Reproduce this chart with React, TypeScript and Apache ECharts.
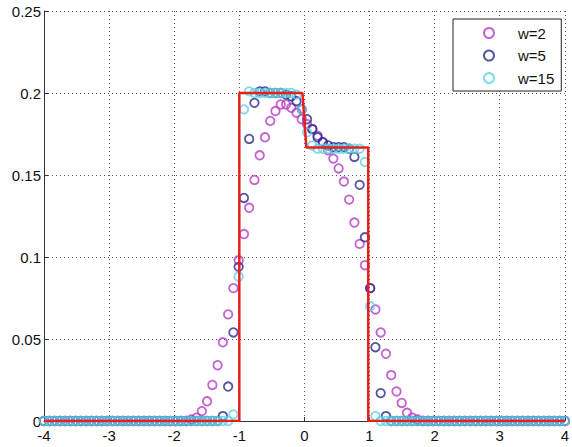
import React, { useEffect, useRef } from "react";
import * as echarts from "echarts";

// Sample grid shared by the three smoothed estimates (100 points on [-4, 4])
const X_GRID = [
  -4.0, -3.9192, -3.8384, -3.7576, -3.6768, -3.596, -3.5152, -3.4343, -3.3535, -3.2727,
  -3.1919, -3.1111, -3.0303, -2.9495, -2.8687, -2.7879, -2.7071, -2.6263, -2.5455, -2.4646,
  -2.3838, -2.303, -2.2222, -2.1414, -2.0606, -1.9798, -1.899, -1.8182, -1.7374, -1.6566,
  -1.5758, -1.4949, -1.4141, -1.3333, -1.2525, -1.1717, -1.0909, -1.0101, -0.9293, -0.8485,
  -0.7677, -0.6869, -0.6061, -0.5253, -0.4444, -0.3636, -0.2828, -0.202, -0.1212, -0.0404,
  0.0404, 0.1212, 0.202, 0.2828, 0.3636, 0.4444, 0.5253, 0.6061, 0.6869, 0.7677,
  0.8485, 0.9293, 1.0101, 1.0909, 1.1717, 1.2525, 1.3333, 1.4141, 1.4949, 1.5758,
  1.6566, 1.7374, 1.8182, 1.899, 1.9798, 2.0606, 2.1414, 2.2222, 2.303, 2.3838,
  2.4646, 2.5455, 2.6263, 2.7071, 2.7879, 2.8687, 2.9495, 3.0303, 3.1111, 3.1919,
  3.2727, 3.3535, 3.4343, 3.5152, 3.596, 3.6768, 3.7576, 3.8384, 3.9192, 4.0,
];

// w = 2
const W2 = [
  0, 0, 0, 0, 0, 0, 0, 0, 0, 0,
  0, 0, 0, 0, 0, 0, 0, 0, 0, 0,
  0, 0, 0, 0, 0, 0, 0, 0, 0.001, 0.002,
  0.006, 0.012, 0.022, 0.034, 0.048, 0.065, 0.081, 0.098, 0.114, 0.13,
  0.147, 0.162, 0.173, 0.183, 0.189, 0.193, 0.193, 0.191, 0.188, 0.184,
  0.181, 0.178, 0.174, 0.17, 0.165, 0.16, 0.154, 0.146, 0.135, 0.121,
  0.108, 0.095, 0.081, 0.068, 0.054, 0.041, 0.028, 0.018, 0.011, 0.005,
  0.002, 0.001, 0, 0, 0, 0, 0, 0, 0, 0,
  0, 0, 0, 0, 0, 0, 0, 0, 0, 0,
  0, 0, 0, 0, 0, 0, 0, 0, 0, 0,
];

// w = 5
const W5 = [
  0, 0, 0, 0, 0, 0, 0, 0, 0, 0,
  0, 0, 0, 0, 0, 0, 0, 0, 0, 0,
  0, 0, 0, 0, 0, 0, 0, 0, 0, 0,
  0, 0, 0, 0, 0.003, 0.021, 0.054, 0.094, 0.136, 0.172,
  0.194, 0.201, 0.201, 0.2, 0.2, 0.2, 0.199, 0.198, 0.195, 0.19,
  0.184, 0.178, 0.173, 0.17, 0.168, 0.167, 0.167, 0.167, 0.166, 0.161,
  0.144, 0.112, 0.081, 0.045, 0.017, 0.003, 0, 0, 0, 0,
  0, 0, 0, 0, 0, 0, 0, 0, 0, 0,
  0, 0, 0, 0, 0, 0, 0, 0, 0, 0,
  0, 0, 0, 0, 0, 0, 0, 0, 0, 0,
];

// w = 15
const W15 = [
  0, 0, 0, 0, 0, 0, 0, 0, 0, 0,
  0, 0, 0, 0, 0, 0, 0, 0, 0, 0,
  0, 0, 0, 0, 0, 0, 0, 0, 0, 0,
  0, 0, 0, 0, 0, 0, 0.004, 0.088, 0.19, 0.201,
  0.2, 0.2, 0.2, 0.2, 0.2, 0.2, 0.2, 0.2, 0.199, 0.19,
  0.176, 0.168, 0.166, 0.166, 0.166, 0.166, 0.166, 0.166, 0.166, 0.166,
  0.166, 0.158, 0.07, 0.003, 0, 0, 0, 0, 0, 0,
  0, 0, 0, 0, 0, 0, 0, 0, 0, 0,
  0, 0, 0, 0, 0, 0, 0, 0, 0, 0,
  0, 0, 0, 0, 0, 0, 0, 0, 0, 0,
];

// True piecewise-constant density (red)
const STEP_X = [-4, -1, -1, -0.03, 0.03, 0.98, 0.98, 4];
const STEP_Y = [0, 0, 0.2, 0.2, 0.1667, 0.1667, 0, 0];

const SERIES_NAMES = ["w=2", "w=5", "w=15"];
const SERIES_COLORS = ["#b83cc6", "#2a2a8e", "#5ed2e4"];

const FONT = "'Liberation Sans', Arial, Helvetica, sans-serif";

export default function App() {
  const ref = useRef<HTMLDivElement>(null);

  useEffect(() => {
    if (!ref.current) return;
    const chart = echarts.init(ref.current, undefined, { renderer: "svg" });

    const values = [W2, W5, W15];
    const scatter = values.map((ys, si) => ({
      name: SERIES_NAMES[si],
      type: "scatter" as const,
      symbol: "circle",
      symbolSize: 8.5,
      z: 2 + si,
      itemStyle: {
        color: "rgba(0,0,0,0)",
        borderColor: SERIES_COLORS[si],
        borderWidth: 1.8,
      },
      data: X_GRID.map((x, i) => [x, ys[i]]),
    }));

    const gridLine = {
      show: true,
      lineStyle: { color: "#555", width: 1, type: [1, 3] as number[] },
    };

    chart.setOption({
      animation: false,
      backgroundColor: "#fff",
      textStyle: { fontFamily: FONT },
      grid: { left: 44, right: 4, top: 11, bottom: 26, containLabel: false },
      xAxis: {
        type: "value",
        min: -4,
        max: 4,
        interval: 1,
        z: 0,
        axisLine: { show: true, onZero: false, lineStyle: { color: "#333", width: 1 } },
        axisTick: { show: true, inside: true, length: 4, lineStyle: { color: "#333" } },
        axisLabel: { color: "#111", fontSize: 15, margin: 7, fontFamily: FONT },
        splitLine: gridLine,
      },
      yAxis: {
        type: "value",
        min: 0,
        max: 0.25,
        interval: 0.05,
        z: 0,
        axisLine: { show: true, onZero: false, lineStyle: { color: "#333", width: 1 } },
        axisTick: { show: true, inside: true, length: 4, lineStyle: { color: "#333" } },
        axisLabel: {
          color: "#111",
          fontSize: 15,
          margin: 3,
          fontFamily: FONT,
          formatter: (v: number) => String(+v.toFixed(2)),
        },
        splitLine: gridLine,
      },
      legend: {
        orient: "vertical",
        left: 453,
        top: 19,
        data: SERIES_NAMES.map((n) => ({ name: n, icon: "circle" })),
        itemWidth: 10,
        itemHeight: 10,
        itemGap: 6.5,
        padding: [6, 7, 5, 30],
        backgroundColor: "#fff",
        borderColor: "#222",
        borderWidth: 1,
        borderRadius: 0,
        textStyle: {
          color: "#111",
          fontSize: 15,
          lineHeight: 16,
          fontFamily: FONT,
          padding: [0, 0, 0, 19],
        },
      },
      series: [
        ...scatter,
        {
          name: "density",
          type: "line",
          showSymbol: false,
          symbol: "none",
          z: 10,
          lineStyle: { color: "#e8201c", width: 2.5 },
          data: STEP_X.map((x, i) => [x, STEP_Y[i]]),
        },
      ],
    });

    return () => chart.dispose();
  }, []);

  return (
    <div
      ref={ref}
      style={{ position: "fixed", left: 0, top: 0, width: 572, height: 447 }}
    />
  );
}
